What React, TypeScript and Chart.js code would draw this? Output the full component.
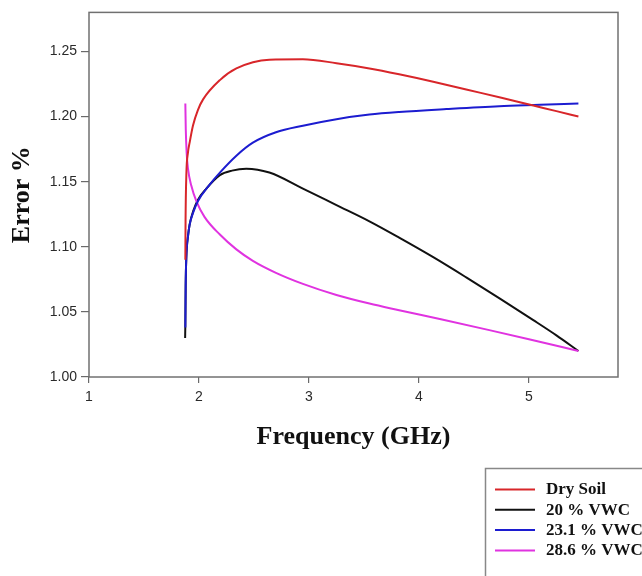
import React, { useEffect, useRef } from "react";
import { Chart, registerables } from "chart.js";

Chart.register(...registerables);

const X_TICKS = [1, 2, 3, 4, 5];
const Y_TICKS = [1.0, 1.05, 1.1, 1.15, 1.2, 1.25];

const SERIES_LABELS = ["Dry Soil", "20 % VWC", "23.1 % VWC", "28.6 % VWC"];
const SERIES_COLORS = ["#d8262a", "#111111", "#1c1cd0", "#e033e0"];

const FREQ_DRY = [1.876, 1.878, 1.885, 1.9, 1.915, 1.945, 1.99, 2.036, 2.19, 2.34, 2.64, 2.945, 3.25, 3.55, 3.82, 4.13, 4.43, 4.75, 5.04, 5.25, 5.45];
const ERR_DRY = [1.09, 1.12, 1.155, 1.1725, 1.18, 1.193, 1.205, 1.213, 1.228, 1.237, 1.2437, 1.244, 1.241, 1.237, 1.2325, 1.2268, 1.2208, 1.2145, 1.2085, 1.2042, 1.2];

const FREQ_20 = [1.874, 1.876, 1.879, 1.885, 1.9, 1.915, 1.95, 1.99, 2.067, 2.19, 2.3, 2.43, 2.64, 2.945, 3.25, 3.55, 3.82, 4.13, 4.43, 4.74, 5.04, 5.25, 5.45];
const ERR_20 = [1.03, 1.04, 1.07, 1.092, 1.108, 1.117, 1.128, 1.136, 1.1447, 1.155, 1.1585, 1.16, 1.157, 1.1447, 1.132, 1.1195, 1.107, 1.092, 1.0765, 1.06, 1.0437, 1.032, 1.02];

const FREQ_231 = [1.876, 1.879, 1.885, 1.9, 1.915, 1.95, 1.99, 2.09, 2.19, 2.34, 2.49, 2.7, 2.945, 3.25, 3.55, 3.82, 4.25, 4.73, 5.1, 5.45];
const ERR_231 = [1.038, 1.07, 1.092, 1.108, 1.117, 1.127, 1.135, 1.147, 1.157, 1.17, 1.18, 1.188, 1.193, 1.198, 1.2015, 1.2035, 1.2058, 1.208, 1.209, 1.21];

const FREQ_286 = [1.876, 1.88, 1.888, 1.9, 1.93, 1.976, 2.05, 2.19, 2.34, 2.49, 2.7, 2.945, 3.25, 3.55, 3.82, 4.2, 4.64, 5.0, 5.45];
const ERR_286 = [1.21, 1.19, 1.172, 1.16, 1.147, 1.135, 1.123, 1.1094, 1.098, 1.0892, 1.08, 1.0715, 1.063, 1.0564, 1.0513, 1.0443, 1.036, 1.029, 1.02];

const SERIES_X = [FREQ_DRY, FREQ_20, FREQ_231, FREQ_286];
const SERIES_Y = [ERR_DRY, ERR_20, ERR_231, ERR_286];
const DRAW_ORDER = [0, 3, 1, 2];

const frameAndLegend = {
  id: "frameAndLegend",
  afterDraw(chart: any) {
    const { ctx, chartArea } = chart;
    ctx.save();
    ctx.strokeStyle = "#707070";
    ctx.lineWidth = 1.5;
    ctx.strokeRect(chartArea.left, chartArea.top, chartArea.right - chartArea.left, chartArea.bottom - chartArea.top);

    // legend box
    ctx.strokeStyle = "#888888";
    ctx.lineWidth = 1.5;
    ctx.strokeRect(485.5, 468.5, 300, 200);
    const ds = chart.data.datasets;
    ctx.font = "bold 17px 'Liberation Serif'";
    ctx.textBaseline = "middle";
    ctx.textAlign = "left";
    ds.forEach((d: any, i: number) => {
      const y = 489.5 + i * 20.3;
      ctx.strokeStyle = d.borderColor;
      ctx.lineWidth = 2;
      ctx.beginPath();
      ctx.moveTo(495, y);
      ctx.lineTo(535, y);
      ctx.stroke();
      ctx.fillStyle = "#111111";
      ctx.fillText(d.label, 546, y + 0.5);
    });
    ctx.restore();
  },
};

export default function App() {
  const ref = useRef<HTMLCanvasElement>(null);
  useEffect(() => {
    if (!ref.current) return;
    const datasets = SERIES_LABELS.map((label, i) => ({
      label,
      data: SERIES_X[i].map((x, j) => ({ x, y: SERIES_Y[i][j] })),
      borderColor: SERIES_COLORS[i],
      backgroundColor: SERIES_COLORS[i],
      borderWidth: 2,
      pointRadius: 0,
      fill: false,
      cubicInterpolationMode: "monotone" as const,
      order: DRAW_ORDER[i],
    }));
    const chart = new Chart(ref.current, {
      type: "line",
      data: { datasets },
      plugins: [frameAndLegend],
      options: {
        animation: false,
        responsive: false,
        layout: { padding: { top: 8, right: 24, left: 0, bottom: 0 } },
        plugins: { legend: { display: false }, tooltip: { enabled: false } },
        scales: {
          x: {
            type: "linear",
            min: 1,
            max: 5.81,
            afterBuildTicks: (s: any) => {
              s.ticks = X_TICKS.map((v) => ({ value: v }));
            },
            afterFit: (s: any) => {
              s.height = 199;
            },
            grid: { display: true, drawOnChartArea: false, drawTicks: true, tickLength: 6, color: "#6a6a6a", lineWidth: 1.2 },
            border: { display: false },
            ticks: {
              color: "#2a2a2a",
              padding: 6,
              maxRotation: 0,
              font: { family: "'Liberation Sans'", size: 14 },
              callback: (v: any) => String(v),
            },
            title: {
              display: true,
              text: "Frequency (GHz)",
              color: "#111",
              font: { family: "'Liberation Serif'", size: 26, weight: "bold" },
              padding: { top: 0, bottom: 123 },
            },
          },
          y: {
            type: "linear",
            min: 1.0,
            max: 1.28,
            afterBuildTicks: (s: any) => {
              s.ticks = Y_TICKS.map((v) => ({ value: v }));
            },
            afterFit: (s: any) => {
              s.width = 89;
            },
            grid: { display: true, drawOnChartArea: false, drawTicks: true, tickLength: 8, color: "#6a6a6a", lineWidth: 1.2 },
            border: { display: false },
            ticks: {
              color: "#2a2a2a",
              padding: 4,
              font: { family: "'Liberation Sans'", size: 14 },
              callback: (v: any) => Number(v).toFixed(2),
            },
            title: {
              display: true,
              text: "Error %",
              color: "#111",
              font: { family: "'Liberation Serif'", size: 26, weight: "bold" },
              padding: { top: 7, bottom: 0 },
            },
          },
        },
      },
    });
    return () => chart.destroy();
  }, []);
  return (
    <div style={{ position: "fixed", left: 0, top: 0, width: 642, height: 576, background: "#fff" }}>
      <canvas ref={ref} width={642} height={576} style={{ display: "block" }} />
    </div>
  );
}
